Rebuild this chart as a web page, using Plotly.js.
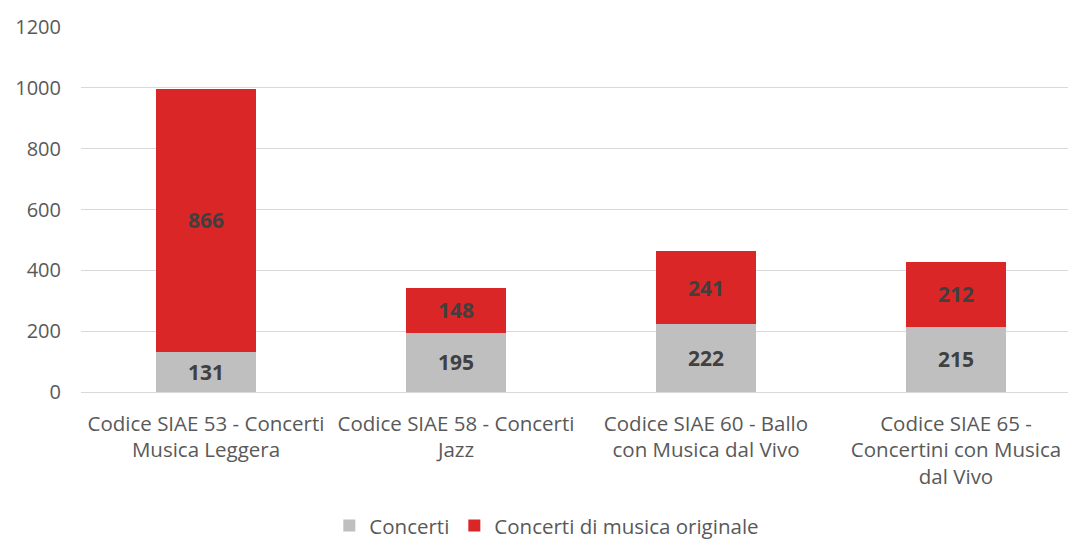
<!DOCTYPE html>
<html>
<head>
<meta charset="utf-8">
<script src="https://cdn.plot.ly/plotly-3.0.1.min.js"></script>
<style>
  html, body { margin: 0; padding: 0; background: #fff; }
  #chart { width: 1068px; height: 542px; }
</style>
</head>
<body>
<div id="chart"></div>
<script>
let categories = [
  "Codice SIAE 53 - Concerti<br>Musica Leggera",
  "Codice SIAE 58 - Concerti<br>Jazz",
  "Codice SIAE 60 - Ballo<br>con Musica dal Vivo",
  "Codice SIAE 65 -<br>Concertini con Musica<br>dal Vivo"
];
let concerti = [131, 195, 222, 215];
let originale = [866, 148, 241, 212];
let y_ticks = [0, 200, 400, 600, 800, 1000, 1200];

let font_family = "'Open Sans', 'DejaVu Sans', sans-serif";
let x_pos = categories.map(function (_, i) { return i; });

let label_font = { family: font_family, size: 21, color: "#404040", weight: "bold" };

let trace_concerti = {
  x: x_pos,
  y: concerti,
  type: "bar",
  name: "Concerti",
  width: 0.4,
  marker: { color: "#BFBFBF" },
  text: concerti.map(String),
  textposition: "inside",
  insidetextanchor: "middle",
  textfont: label_font,
  hoverinfo: "y+name",
};

let trace_originale = {
  x: x_pos,
  y: originale,
  type: "bar",
  name: "Concerti di musica originale",
  width: 0.4,
  marker: { color: "#DA2627" },
  text: originale.map(String),
  textposition: "inside",
  insidetextanchor: "middle",
  textfont: label_font,
  hoverinfo: "y+name",
};

let layout = {
  width: 1068,
  height: 542,
  barmode: "stack",
  margin: { l: 81, r: 0, t: 27, b: 150 },
  paper_bgcolor: "#fff",
  plot_bgcolor: "#fff",
  font: { family: font_family, size: 20, color: "#595959" },
  xaxis: {
    range: [-0.5, 3.448],
    tickvals: x_pos,
    ticktext: categories,
    showgrid: false,
    zeroline: false,
    showline: false,
    ticks: "",
    automargin: false,
    ticklabelstandoff: 17,
    tickfont: { family: font_family, size: 20.5, color: "#595959" },
    fixedrange: true,
  },
  yaxis: {
    range: [0, 1200],
    tickvals: y_ticks,
    showgrid: true,
    gridcolor: "#D9D9D9",
    gridwidth: 1,
    zeroline: true,
    zerolinecolor: "#D9D9D9",
    zerolinewidth: 1,
    ticks: "",
    automargin: false,
    ticklabelstandoff: 19,
    tickfont: { family: font_family, size: 20, color: "#595959" },
    fixedrange: true,
  },
  showlegend: true,
  legend: {
    orientation: "h",
    xref: "container",
    yref: "container",
    x: 0.512,
    xanchor: "center",
    y: 0.03,
    yanchor: "middle",
    font: { family: font_family, size: 20.5, color: "#595959" },
    traceorder: "normal",
  },
};

let config = { displayModeBar: false, staticPlot: true };

Plotly.newPlot("chart", [trace_concerti, trace_originale], layout, config);
</script>
</body>
</html>
